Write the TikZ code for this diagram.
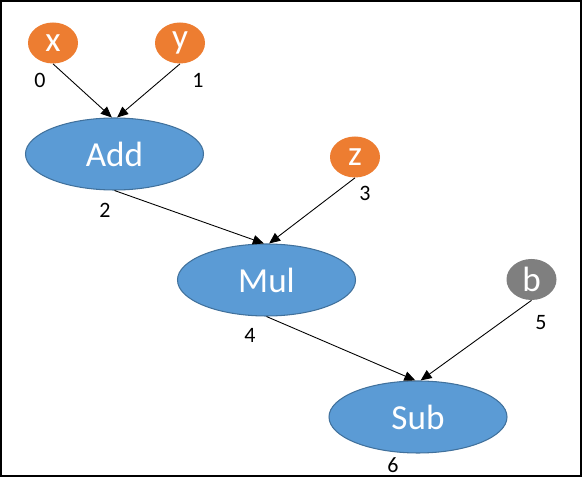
\documentclass[tikz,border=0pt]{standalone}
\usepackage{fontspec}
\setmainfont{Carlito}
\usetikzlibrary{arrows.meta,shapes.geometric}
\definecolor{opin}{HTML}{ED7D31}
\definecolor{opblue}{HTML}{5B9BD5}
\definecolor{opedge}{HTML}{41719C}
\definecolor{opgray}{HTML}{7F7F7F}
\begin{document}
\begin{tikzpicture}[
	invar/.style={ellipse, fill=opin, text=white, minimum width=1.0cm, minimum height=0.82cm, inner sep=0pt, font=\fontsize{20}{24}\selectfont},
	constvar/.style={invar, fill=opgray},
	opnode/.style={ellipse, fill=opblue, draw=opedge, line width=0.6pt, text=white, minimum width=3.56cm, minimum height=1.44cm, inner sep=0pt, font=\fontsize{20}{24}\selectfont},
	idx/.style={font=\fontsize{12.5}{15}\selectfont},
	edge/.style={line width=0.5pt, -{Triangle[length=0.22cm, width=0.19cm]}}
	]
	
	% Frame
	\useasboundingbox (0,0) rectangle (11.68,-9.88);
	\draw[line width=1.1pt] (0.02,-0.02) rectangle (11.62,-9.52);
	
	% Inputs
	\node[invar] at (1.06,-0.86) (x) {x};
	\node[invar] at (3.60,-0.86) (y) {y};
	\node[invar] at (7.10,-3.14) (z) {z};
	\node[constvar] at (10.63,-5.59) (b) {b};
	
	% Operations
	\node[opnode] at (2.29,-3.08) (add) {Add};
	\node[opnode] at (5.33,-5.60) (mul) {Mul};
	\node[opnode] at (8.36,-8.34) (sub) {Sub};
	
	% Indices
	\node[idx] at (0.80,-1.60) (i0) {0};
	\node[idx] at (3.96,-1.60) (i1) {1};
	\node[idx] at (2.10,-4.20) (i2) {2};
	\node[idx] at (7.30,-3.86) (i3) {3};
	\node[idx] at (5.00,-6.70) (i4) {4};
	\node[idx] at (10.82,-6.46) (i5) {5};
	\node[idx] at (7.86,-9.30) (i6) {6};
	
	% Edges
	\draw[edge] (x.south) -- ([xshift=-1.5pt]add.north);
	\draw[edge] (y.south) -- ([xshift=1.5pt]add.north);
	\draw[edge] (add.south) -- ([xshift=-1.5pt]mul.north);
	\draw[edge] (z.south) -- ([xshift=1.5pt]mul.north);
	\draw[edge] (mul.south) -- ([xshift=-1.5pt]sub.north);
	\draw[edge] (b.south) -- ([xshift=1.5pt]sub.north);
	
\end{tikzpicture}
\end{document}
